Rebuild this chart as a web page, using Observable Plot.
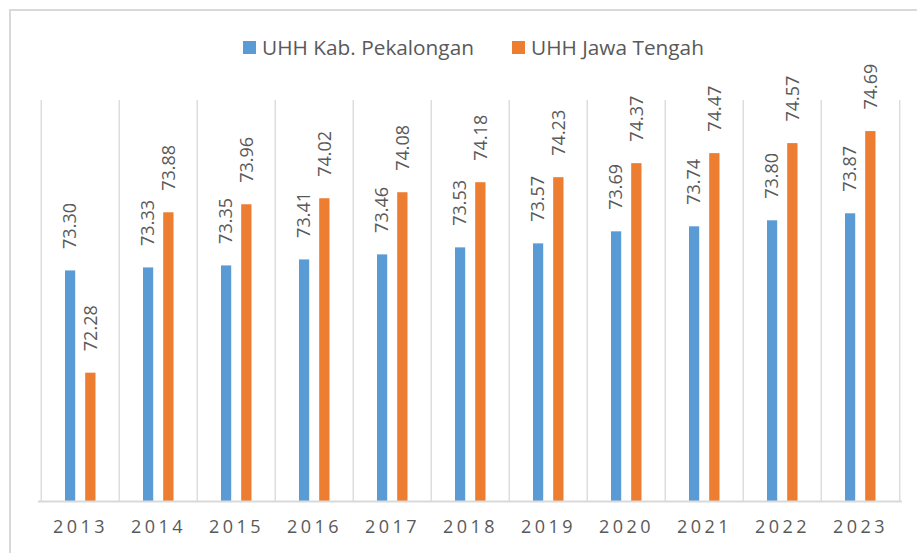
<!DOCTYPE html>
<html>
<head>
<meta charset="utf-8">
<script src="https://cdn.jsdelivr.net/npm/d3@7"></script>
<script src="https://cdn.jsdelivr.net/npm/@observablehq/plot@0.6"></script>
<style>
  html, body { margin: 0; padding: 0; background: #fff; }
  #wrap { position: relative; width: 917px; height: 553px; overflow: hidden; font-family: "Open Sans", sans-serif; }
  #box { position: absolute; left: 9px; top: 9px; width: 960px; height: 620px; border: 2px solid #d9d9d9; box-sizing: border-box; }
  #legend { position: relative; height: 70px; display: flex; justify-content: center; align-items: flex-end; font-size: 20.8px; color: #595959; padding-left: 30px; box-sizing: border-box; }
  #legend .item { display: flex; align-items: center; margin: 0 19px 9px 19px; }
  #legend .sw { width: 13px; height: 13px; margin-right: 6px; }
  #chart { position: relative; }
</style>
</head>
<body>
<div id="wrap">
  <div id="box"></div>
  <div id="legend"></div>
  <div id="chart"></div>
</div>
<script>
const years = ["2013","2014","2015","2016","2017","2018","2019","2020","2021","2022","2023"];
const seriesNames = ["UHH Kab. Pekalongan", "UHH Jawa Tengah"];
const pekalongan = [73.30, 73.33, 73.35, 73.41, 73.46, 73.53, 73.57, 73.69, 73.74, 73.80, 73.87];
const jawaTengah = [72.28, 73.88, 73.96, 74.02, 74.08, 74.18, 74.23, 74.37, 74.47, 74.57, 74.69];
const colors = ["#5b9bd5", "#ed7d31"];
const yDomain = [71, 75];

const data = years.flatMap((y, i) => [
  {year: y, series: seriesNames[0], value: pekalongan[i]},
  {year: y, series: seriesNames[1], value: jawaTengah[i]}
]);
const blue = data.filter(d => d.series === seriesNames[0]);
const orange = data.filter(d => d.series === seriesNames[1]);

// legend
const legend = document.getElementById("legend");
seriesNames.forEach((name, i) => {
  const it = document.createElement("div");
  it.className = "item";
  const sw = document.createElement("span");
  sw.className = "sw";
  sw.style.background = colors[i];
  const t = document.createElement("span");
  t.textContent = name;
  it.appendChild(sw); it.appendChild(t);
  legend.appendChild(it);
});

const W = 917, H = 483;
const mL = 38, mR = 15, mT = 30, mB = 52;
const bw = (W - mL - mR) / years.length;

const chart = Plot.plot({
  width: W,
  height: H,
  marginLeft: mL,
  marginRight: mR,
  marginTop: mT,
  marginBottom: mB,
  style: {fontFamily: "Open Sans, sans-serif", background: "transparent", overflow: "visible"},
  x: {domain: years, padding: 0, tickSize: 0, tickPadding: 19, label: null},
  y: {domain: yDomain, axis: null},
  marks: [
    Plot.ruleX(years, {x: d => d, dx: -bw / 2, y1: yDomain[0], y2: yDomain[1], stroke: "#d9d9d9", strokeWidth: 1.3}),
    Plot.ruleX([years[years.length - 1]], {x: d => d, dx: bw / 2, y1: yDomain[0], y2: yDomain[1], stroke: "#d9d9d9", strokeWidth: 1.3}),
    Plot.barY(blue, {x: "year", y1: yDomain[0], y2: "value", fill: colors[0], insetLeft: 24, insetRight: 43.8}),
    Plot.barY(orange, {x: "year", y1: yDomain[0], y2: "value", fill: colors[1], insetLeft: 44.2, insetRight: 23.5}),
    Plot.ruleY([yDomain[0]], {stroke: "#d9d9d9", strokeWidth: 2}),
    Plot.text(blue, {x: "year", y: "value", text: d => d.value.toFixed(2), rotate: -90, textAnchor: "start", lineAnchor: "middle", dx: -10, dy: -22, fill: "#595959", fontSize: 18}),
    Plot.text(orange, {x: "year", y: "value", text: d => d.value.toFixed(2), rotate: -90, textAnchor: "start", lineAnchor: "middle", dx: 10.3, dy: -22, fill: "#595959", fontSize: 18})
  ]
});
chart.querySelectorAll('[aria-label="x-axis tick label"] text').forEach(t => {
  t.style.letterSpacing = "3.5px";
});
const ax = chart.querySelector('[aria-label="x-axis tick label"]');
if (ax) { ax.setAttribute("font-size", "18"); ax.setAttribute("fill", "#595959"); ax.style.color = "#595959"; }
document.getElementById("chart").appendChild(chart);
</script>
</body>
</html>
